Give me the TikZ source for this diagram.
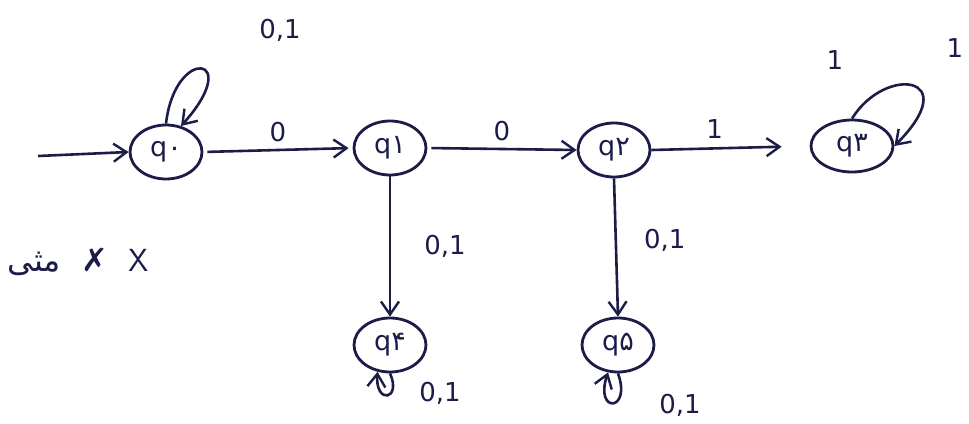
\documentclass[tikz,border=0pt]{standalone}
\usepackage{fontspec}
\usetikzlibrary{arrows.meta,shapes.geometric}
\TeXXeTstate=1
\newfontfamily\fa{DejaVu Sans}
\newfontfamily\arabicfont[Script=Arabic]{DejaVu Sans}
\definecolor{ink}{RGB}{28,28,72}
\begin{document}
\begin{tikzpicture}[x=1pt,y=-1pt,
  state/.style={draw=ink,ellipse,line width=2.8pt,minimum width=72pt,minimum height=54pt,inner sep=0pt,text=ink,font=\fa\fontsize{27}{29}\selectfont},
  edge/.style={draw=ink,line width=2.6pt,-{Straight Barb[length=13pt,width=18pt,line width=2.4pt]}},
  lab/.style={text=ink,font=\fa\fontsize{26}{28}\selectfont,inner sep=1pt}]
\useasboundingbox (0,0) rectangle (969,423);
\fill[white] (0,0) rectangle (969,423);
% states
\node[state] (q0) at (166,152) {q۰};
\node[state] (q1) at (390,148) {q۱};
\node[state] (q2) at (614,150) {q۲};
\node[state,minimum width=82pt,minimum height=52pt] (q3) at (852,146) {q۳};
\node[state] (q4) at (390,345) {q۴};
\node[state] (q5) at (618,345) {q۵};
% start
\coordinate (s) at (38,156);
\draw[edge] (s) -- (q0.west);
% transitions
\draw[edge,shorten <=4pt,shorten >=4pt] (q0.east) -- node[lab,above=6pt] {0} (q1.west);
\draw[edge,shorten <=4pt] (q1.east) -- node[lab,above=6pt] {0} (q2.west);
\draw[edge,shorten >=28pt] (q2.east) -- node[lab,above=8pt,pos=0.4] {1} (q3.west);
\draw[edge] (q1.south) -- node[lab,right=32pt] {0,1} (q4.north);
\draw[edge] (q2.south) -- node[lab,right=26pt,pos=0.45] {0,1} (q5.north);
% loops
\draw[edge] (q0.north) .. controls (175,45) and (245,55) .. (q0.60);
\node[lab] (l0) at (280,30) {0,1};
\draw[edge] (q3.north) .. controls (885,65) and (965,75) .. (q3.east);
\node[lab] (l3a) at (955,48) {1};
\node[lab] (l3b) at (835,60) {1};
\draw[edge] (q4.south) .. controls (402,400) and (375,405) .. (q4.-115);
\node[lab] (l4) at (440,393) {0,1};
\draw[edge] (q5.south) .. controls (632,412) and (594,414) .. (q5.-110);
\node[lab] (l5) at (680,405) {0,1};
% side note
\node[text=ink,font=\fontsize{32}{34}\selectfont] (note) at (78,262) {\arabicfont\beginR مثی\endR\ \ {\fa ✗}\ \ \textsf{X}};
\end{tikzpicture}
\end{document}
